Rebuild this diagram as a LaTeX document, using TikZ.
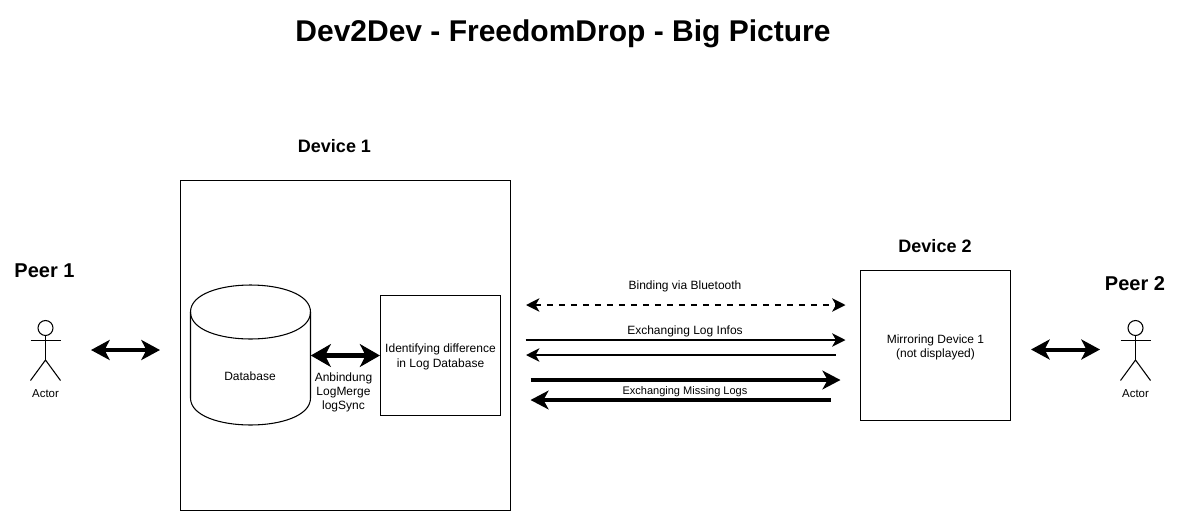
\documentclass[tikz,border=0pt]{standalone}
\usepackage{fontspec}
\setmainfont{Liberation Sans}
\usetikzlibrary{arrows.meta}
\tikzset{
  box/.style={draw=black,line width=.8pt,fill=white,inner sep=0pt},
  lbl/.style={inner sep=0pt,align=center,font=\fontsize{9pt}{10.5pt}\selectfont},
  small/.style={inner sep=0pt,align=center,font=\fontsize{8.25pt}{10pt}\selectfont},
  big/.style={inner sep=0pt,font=\fontsize{13.5pt}{16pt}\selectfont\bfseries},
  peer/.style={inner sep=0pt,font=\fontsize{15pt}{18pt}\selectfont\bfseries},
  line/.style={draw=black,line width=.8pt},
  thinarrow/.style={line width=1.5pt,-{Stealth[length=10pt,width=10pt,inset=2.8pt]}},
  thinboth/.style={line width=1.5pt,{Stealth[length=10pt,width=10pt,inset=2.8pt]}-{Stealth[length=10pt,width=10pt,inset=2.8pt]}},
  fatarrow/.style={line width=3pt,-{Stealth[length=13.5pt,width=14pt,inset=3.8pt]}},
  fatboth/.style={line width=3pt,{Stealth[length=14pt,width=15pt,inset=3.8pt]}-{Stealth[length=14pt,width=15pt,inset=3.8pt]}},
  dbboth/.style={line width=4pt,{Stealth[length=15pt,width=17pt,inset=4.2pt]}-{Stealth[length=15pt,width=17pt,inset=4.2pt]}},
}
\begin{document}
\begin{tikzpicture}[x=.75pt,y=-.75pt]
\useasboundingbox[fill=white] (0,0) rectangle (1181,511);
% titles
\node[inner sep=0pt,font=\fontsize{22.5pt}{26pt}\selectfont\bfseries] (title) at (563,33.5) {Dev2Dev - FreedomDrop - Big Picture};
\node[big] (dev1) at (334.5,146) {Device 1};
\node[big] (dev2) at (935,246) {Device 2};
\node[peer] (peer1) at (44.5,270.5) {Peer 1};
\node[peer] (peer2) at (1135,283.5) {Peer 2};
% device boxes
\node[box,minimum width=247.5pt,minimum height=247.5pt] (device1) at (345.5,345.5) {};
\node[box,minimum width=112.5pt,minimum height=112.5pt] (device2) at (935.5,345.5) {};
\node[lbl] (device2label) at (935.5,347) {Mirroring Device 1\\(not displayed)};
\node[box,minimum width=90pt,minimum height=90pt] (idbox) at (440.5,355.5) {};
\node[lbl,font=\fontsize{9pt}{11.25pt}\selectfont] (idlabel) at (440.5,356.5) {Identifying difference\\in Log Database};
% database cylinder
\draw[line,fill=white] (190.5,312) .. controls (190.5,276) and (310.5,276) .. (310.5,312)
  -- (310.5,398) .. controls (310.5,434) and (190.5,434) .. (190.5,398) -- cycle;
\draw[line] (190.5,312) .. controls (190.5,348) and (310.5,348) .. (310.5,312);
\node[inner sep=0pt,minimum width=90pt,minimum height=105pt] (db) at (250.5,355.5) {};
\node[lbl] (dblabel) at (250,376) {Database};
\draw[dbboth] (db.east) -- (idbox.west);
\node[lbl] (anb) at (343.5,392) {Anbindung\\LogMerge\\logSync};
% actors
\foreach \n/\cx in {a/45.5,b/1135.5}{
  \node[draw=black,line width=.8pt,circle,minimum size=11.25pt,inner sep=0pt] (head\n) at (\cx,328) {};
  \coordinate (hip\n) at (\cx,360);
  \draw[line] (head\n.south) -- (hip\n);
  \coordinate (sl\n) at (\cx-15,340.5);
  \coordinate (sr\n) at (\cx+15,340.5);
  \coordinate (fl\n) at (\cx-15,380.5);
  \coordinate (fr\n) at (\cx+15,380.5);
  \draw[line] (sl\n) -- (sr\n);
  \draw[line] (fl\n) -- (hip\n) -- (fr\n);
  \node[inner sep=0pt,font=\fontsize{8.6pt}{10pt}\selectfont] (actor\n) at (\cx,394) {Actor};
}
% peer arrows
\coordinate (p1a) at (91,350);
\coordinate (p1b) at (160,350);
\draw[fatboth] (p1a) -- (p1b);
\coordinate (p2a) at (1031,349.5);
\coordinate (p2b) at (1100,349.5);
\draw[fatboth] (p2a) -- (p2b);
% link arrows
\coordinate (d1a) at (526,305);
\coordinate (d1b) at (845.5,305);
\draw[thinboth,dash pattern=on 4.5pt off 4.5pt] (d1a) -- (d1b);
\node[lbl] (bind) at (685,286) {Binding via Bluetooth};
\coordinate (e1a) at (525.5,340);
\coordinate (e1b) at (845.5,340);
\draw[thinarrow] (e1a) -- (e1b);
\coordinate (e2a) at (835.5,355);
\coordinate (e2b) at (526,355);
\draw[thinarrow] (e2a) -- (e2b);
\node[lbl] (exinfo) at (685,331) {Exchanging Log Infos};
\coordinate (f1a) at (530.5,380);
\coordinate (f1b) at (840.5,380);
\draw[fatarrow] (f1a) -- (f1b);
\coordinate (f2a) at (830.5,400);
\coordinate (f2b) at (530.5,400);
\draw[fatarrow] (f2a) -- (f2b);
\node[small] (exmiss) at (685,391.5) {Exchanging Missing Logs};
\end{tikzpicture}
\end{document}
